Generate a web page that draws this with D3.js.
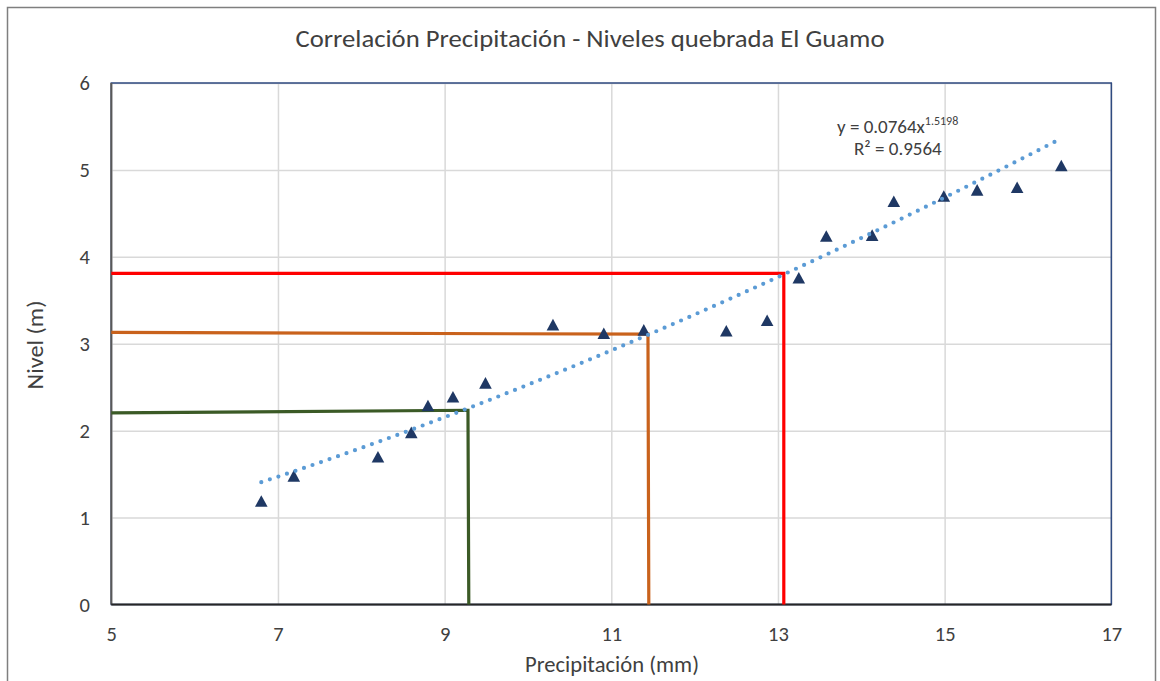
<!DOCTYPE html>
<html>
<head>
<meta charset="utf-8">
<script src="https://cdn.jsdelivr.net/npm/d3@7"></script>
<style>
  html, body { margin: 0; padding: 0; background: #ffffff; }
  svg { display: block; }
  text { font-family: Carlito, "Liberation Sans", "Open Sans", sans-serif; fill: #404040; }
</style>
</head>
<body>
<svg id="chart" width="1160" height="681"></svg>
<script>
// ---------- data ----------
const titleText = "Correlación Precipitación - Niveles quebrada El Guamo";
const xTitle = "Precipitación (mm)";
const yTitle = "Nivel (m)";
const xTicks = [5, 7, 9, 11, 13, 15, 17];
const yTicks = [0, 1, 2, 3, 4, 5, 6];
const precip = [6.80, 7.19, 8.20, 8.60, 8.80, 9.10, 9.49, 10.30, 10.91, 11.39, 12.38, 12.87, 13.25, 13.58, 14.13, 14.39, 14.99, 15.39, 15.87, 16.40];
const nivel  = [1.19, 1.48, 1.70, 1.98, 2.29, 2.39, 2.55, 3.22, 3.12, 3.16, 3.15, 3.27, 3.76, 4.24, 4.25, 4.64, 4.70, 4.77, 4.80, 5.05];
// power trendline as printed on the chart: y = a * x^b
const trendCoef = [0.0764, 1.5198];
const trendLabel = ["y = 0.0764x", "1.5198", "R² = 0.9564"];
// reading guide lines (x, y) : horizontal from axis to point, then down to zero
const guideRed    = [[5, 3.81], [13.07, 3.81], [13.07, 0]];
const guideOrange = [[5, 3.13], [11.44, 3.11], [11.45, 0]];
const guideGreen  = [[5, 2.205], [9.28, 2.235], [9.29, 0]];

// ---------- layout ----------
const svg = d3.select("#chart");
const pLeft = 111.3, pRight = 1111.3, pTop = 83, pBottom = 604.5;
const x = d3.scaleLinear().domain([5, 17]).range([pLeft, pRight]);
const y = d3.scaleLinear().domain([0, 6]).range([pBottom, pTop]);

// outer chart border
svg.append("rect").attr("x", 7.5).attr("y", 7.5).attr("width", 1148).attr("height", 720)
  .attr("fill", "#ffffff").attr("stroke", "#7f7f7f").attr("stroke-width", 1.5);

// title
svg.append("text").attr("x", 590).attr("y", 47).attr("text-anchor", "middle")
  .attr("font-size", 24.5).attr("textLength", 589).attr("lengthAdjust", "spacingAndGlyphs")
  .text(titleText);

// gridlines
const g = svg.append("g");
g.append("g").attr("transform", `translate(0,${pBottom})`)
  .call(d3.axisBottom(x).tickValues(xTicks).tickSize(-(pBottom - pTop)).tickFormat(""))
  .call(s => s.select(".domain").remove())
  .call(s => s.selectAll("line").attr("stroke", "#d9d9d9").attr("stroke-width", 1.5));
g.append("g").attr("transform", `translate(${pLeft},0)`)
  .call(d3.axisLeft(y).tickValues(yTicks).tickSize(-(pRight - pLeft)).tickFormat(""))
  .call(s => s.select(".domain").remove())
  .call(s => s.selectAll("line").attr("stroke", "#d9d9d9").attr("stroke-width", 1.5));

// plot area border
svg.append("rect").attr("x", pLeft).attr("y", pTop).attr("width", pRight - pLeft).attr("height", pBottom - pTop)
  .attr("fill", "none").attr("stroke", "#2f4a80").attr("stroke-width", 1.5);

// tick labels
const xAxis = svg.append("g").attr("transform", `translate(0,${pBottom})`)
  .call(d3.axisBottom(x).tickValues(xTicks).tickSize(0).tickPadding(22).tickFormat(d3.format("d")));
xAxis.select(".domain").remove();
xAxis.selectAll("text").attr("font-size", 20.5).style("fill", "#404040")
  .style("font-family", "Carlito, 'Liberation Sans', sans-serif");
const yAxis = svg.append("g").attr("transform", `translate(${pLeft},0)`)
  .call(d3.axisLeft(y).tickValues(yTicks).tickSize(0).tickPadding(21.5).tickFormat(d3.format("d")));
yAxis.select(".domain").remove();
yAxis.selectAll("text").attr("font-size", 20.5).style("fill", "#404040")
  .style("font-family", "Carlito, 'Liberation Sans', sans-serif");

// axis lines
svg.append("line").attr("x1", pLeft).attr("x2", pLeft).attr("y1", pTop).attr("y2", pBottom)
  .attr("stroke", "#595959").attr("stroke-width", 2);
svg.append("line").attr("x1", pLeft).attr("x2", pRight).attr("y1", pBottom).attr("y2", pBottom)
  .attr("stroke", "#262626").attr("stroke-width", 2);

// axis titles
svg.append("text").attr("x", 612).attr("y", 671.5).attr("text-anchor", "middle")
  .attr("font-size", 22.5).attr("textLength", 174).attr("lengthAdjust", "spacingAndGlyphs").text(xTitle);
svg.append("text").attr("transform", "translate(43,345) rotate(-90)").attr("text-anchor", "middle")
  .attr("font-size", 22.5).attr("textLength", 89).attr("lengthAdjust", "spacingAndGlyphs").text(yTitle);

// guide lines
const line = d3.line().x(d => x(d[0])).y(d => y(d[1]));
[[guideGreen, "#3b5a26"], [guideOrange, "#c9621c"], [guideRed, "#ff0000"]].forEach(([pts, col]) => {
  svg.append("path").attr("d", line(pts)).attr("fill", "none").attr("stroke", col)
    .attr("stroke-width", 3.2).attr("stroke-linejoin", "miter");
});

// markers
const tri = "M0,-5.8L6.3,5.8L-6.3,5.8Z";
svg.append("g").selectAll("path").data(precip.map((p, i) => [p, nivel[i]])).join("path")
  .attr("d", tri).attr("transform", d => `translate(${x(d[0])},${y(d[1])})`)
  .attr("fill", "#1f3864");

// trendline through the data range using the printed equation
const xs = d3.extent(precip);
const trendPts = d3.range(0, 41).map(i => {
  const xv = xs[0] + (xs[1] - xs[0]) * i / 40;
  return [xv, trendCoef[0] * Math.pow(xv, trendCoef[1])];
});
svg.append("path").attr("d", line(trendPts)).attr("fill", "none")
  .attr("stroke", "#5b9bd5").attr("stroke-width", 4.2).attr("stroke-linecap", "round")
  .attr("stroke-dasharray", "0 9");

// equation label
const eq = svg.append("text").attr("x", 837).attr("y", 132.5).attr("font-size", 19);
eq.append("tspan").text(trendLabel[0]);
eq.append("tspan").attr("font-size", 12).attr("dy", -8).text(trendLabel[1]);
svg.append("text").attr("x", 854).attr("y", 154.5).attr("font-size", 19).text(trendLabel[2]);
</script>
</body>
</html>
